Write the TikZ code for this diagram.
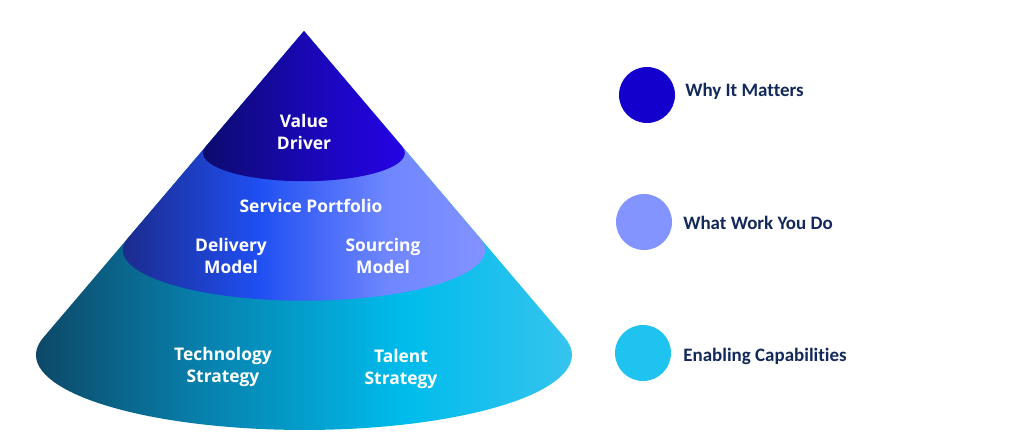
\documentclass[tikz,border=0pt]{standalone}
\usepackage{fontspec}
\setmainfont{Open Sans}
\newfontfamily\legendfont[Ligatures=NoCommon]{Carlito}
\usetikzlibrary{positioning}

\definecolor{navytext}{HTML}{13295B}
\definecolor{dottop}{HTML}{1400CC}
\definecolor{dotmid}{HTML}{8393FF}
\definecolor{dotbase}{HTML}{1FC3F0}
\definecolor{baseA}{HTML}{0E3F5C}
\definecolor{baseB}{HTML}{0780AC}
\definecolor{baseC}{HTML}{00BCEC}
\definecolor{baseD}{HTML}{36C4EE}
\definecolor{midA}{HTML}{1B2680}
\definecolor{midB}{HTML}{1F4FF2}
\definecolor{midC}{HTML}{6F86FF}
\definecolor{midD}{HTML}{8392FF}
\definecolor{topA}{HTML}{0B0B66}
\definecolor{topB}{HTML}{1808B0}
\definecolor{topC}{HTML}{2503E6}

\pgfdeclarehorizontalshading{baseshade}{100bp}{color(0bp)=(baseA); color(25bp)=(baseA); color(42bp)=(baseB); color(60bp)=(baseC); color(75bp)=(baseD); color(100bp)=(baseD)}
\pgfdeclarehorizontalshading{midshade}{100bp}{color(0bp)=(midA); color(25bp)=(midA); color(45bp)=(midB); color(62bp)=(midC); color(75bp)=(midD); color(100bp)=(midD)}
\pgfdeclarehorizontalshading{topshade}{100bp}{color(0bp)=(topA); color(25bp)=(topA); color(50bp)=(topB); color(75bp)=(topC); color(100bp)=(topC)}

\begin{document}
\begin{tikzpicture}[x=0.02cm, y=-0.02cm,
  conelabel/.style={text=white, font=\bfseries\fontsize{9.9}{12}\selectfont, align=center, inner sep=0pt},
  legenddot/.style={circle, minimum size=1.12cm, inner sep=0pt},
  legendtext/.style={text=navytext, font=\legendfont\bfseries\fontsize{10.8}{13}\selectfont, inner sep=0pt, anchor=base west}]
\useasboundingbox (0,0) rectangle (1024,447);
% cone, painted from the base up (each layer is the same cone, cut shorter)
\shade[shading=baseshade] (304,31) -- (43.3,337.6) arc[start angle=193.38, end angle=-13.38, x radius=268, y radius=75] -- cycle;
\shade[shading=midshade] (304,31) -- (127.8,238.3) arc[start angle=193.38, end angle=-13.38, x radius=181.1, y radius=50.7] -- cycle;
\shade[shading=topshade] (304,31) -- (205.8,146.5) arc[start angle=193.38, end angle=-13.38, x radius=100.9, y radius=28.2] -- cycle;
% labels on the cone
\node[conelabel] (value) at (304,132) {Value\\Driver};
\node[conelabel] (portfolio) at (311,206) {Service Portfolio};
\node[conelabel] (delivery) at (231,256) {Delivery\\Model};
\node[conelabel] (sourcing) at (383,256) {Sourcing\\Model};
\node[conelabel] (technology) at (223,367) {Technology\\Strategy};
\node[conelabel] (talent) at (401,369) {Talent\\Strategy};
% legend
\node[legenddot, fill=dottop] (whydot) at (647,95) {};
\node[legenddot, fill=dotmid] (workdot) at (644,222) {};
\node[legenddot, fill=dotbase] (enabledot) at (643,353) {};
\node[legendtext] (whytext) at (685,96.5) {Why It Matters};
\node[legendtext] (worktext) at (683,229) {What Work You Do};
\node[legendtext] (enabletext) at (683,361) {Enabling Capabilities};
\end{tikzpicture}
\end{document}
